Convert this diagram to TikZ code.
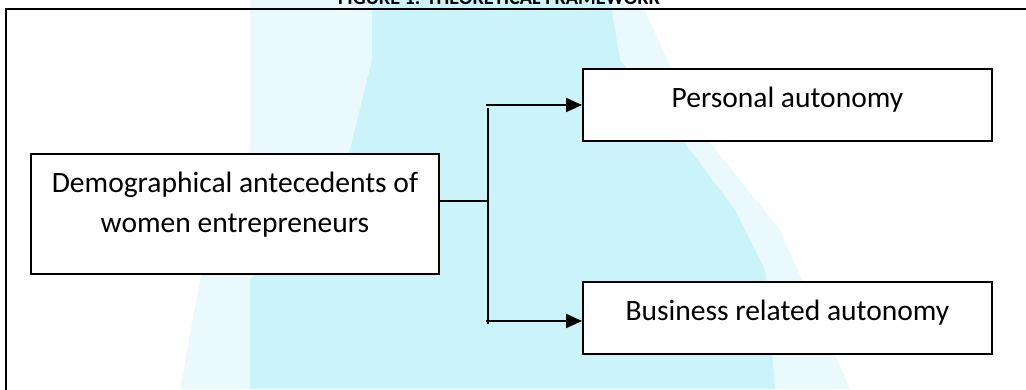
\documentclass[tikz,border=0pt]{standalone}
\usepackage{fontspec}
\setmainfont{Carlito}
\usetikzlibrary{arrows.meta, positioning}
\definecolor{markcyan}{RGB}{202, 243, 250}
\definecolor{marklight}{RGB}{234, 250, 252}

\begin{document}
\begin{tikzpicture}[
  x=0.02cm, y=-0.02cm,
  frame/.style={draw=black, line width=1.1pt},
  lbox/.style={frame, fill=white, minimum width=8.16cm, inner xsep=0pt, inner ysep=0pt, align=center, font=\fontsize{16.8}{22.8}\selectfont, text height=1.58cm, text depth=0.82cm},
  rbox/.style={frame, fill=white, minimum width=8.18cm, inner xsep=0pt, inner ysep=0pt, font=\fontsize{16.8}{22.8}\selectfont, text height=0.77cm, text depth=0.67cm},
  link/.style={draw=black, line width=1.1pt},
  arr/.style={link, -{Triangle[length=0.32cm, width=0.28cm]}}
]
  \useasboundingbox (0,0) rectangle (1026,389);
  \clip (0,0) rectangle (1026,389);

  % faint watermark behind the figure
  \fill[marklight] (250,0) -- (640,0) -- (700,130) -- (780,230) -- (850,389) -- (180,389) -- (200,280) -- (250,150) -- cycle;
  \fill[markcyan] (372,0) -- (610,0) -- (620,60) -- (690,150) -- (735,210) -- (765,270) -- (775,389) -- (250,389) -- (250,280) -- (300,230) -- (350,150) -- (372,60) -- cycle;

  \node[font=\bfseries\fontsize{11.5}{14}\selectfont, anchor=base] (title) at (499,4) {FIGURE 1: THEORETICAL FRAMEWORK};
  \draw[frame] (6,400) |- (1040,9);

  \node[lbox, anchor=north west] (demo) at (30,153) {Demographical antecedents of\\women entrepreneurs};
  \node[rbox, anchor=north west] (personal) at (582,68) {Personal autonomy};
  \node[rbox, anchor=north west] (business) at (582,281) {Business related autonomy};

  \coordinate (fork) at (488,201);
  \coordinate (forktop) at (488,108);
  \coordinate (forkbot) at (488,324);
  \coordinate (ptop) at (486,105);
  \coordinate (pbot) at (486,321);

  \draw[link] (demo.east |- fork) -- (fork);
  \draw[link] (forktop) -- (forkbot);
  \draw[arr] (ptop) -- (ptop -| personal.west);
  \draw[arr] (pbot) -- (pbot -| business.west);
\end{tikzpicture}
\end{document}
